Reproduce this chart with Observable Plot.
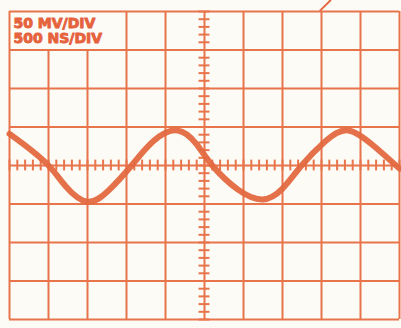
<!DOCTYPE html>
<html>
<head>
<meta charset="utf-8">
<script src="https://cdn.jsdelivr.net/npm/d3@7"></script>
<script src="https://cdn.jsdelivr.net/npm/@observablehq/plot@0.6"></script>
<style>
  html, body { margin: 0; padding: 0; background: #fdfbf6; }
  #chart svg { display: block; }
</style>
</head>
<body>
<div id="chart"></div>
<script>
// Graticule divisions
const gridX = [0, 1, 2, 3, 4, 5, 6, 7, 8, 9, 10];
const gridY = [-4, -3, -2, -1, 0, 1, 2, 3, 4];
// columns interrupted by the label box in the top row
const labelBoxColumns = [1, 2];
// minor ticks on the centre axes (every 0.2 division)
const minorX = d3.range(0, 10.001, 0.2);
const minorY = d3.range(-4, 4.001, 0.2);

// Trace (x: divisions, y: divisions)
const traceX = [0, 0.4, 1.0, 1.45, 2.0, 2.55, 3.13, 3.7, 4.31, 4.8, 5.2, 5.85, 6.49, 7.0, 7.49, 8.1, 8.69, 9.35, 10];
const traceY = [0.82, 0.52, 0, -0.55, -0.94, -0.64, 0, 0.64, 0.91, 0.55, 0, -0.62, -0.88, -0.6, 0, 0.63, 0.91, 0.5, -0.08];

// Stray stroke above the graticule
const strayX = [7.97, 8.23];
const strayY = [4.03, 4.29];

// Settings labels
const labels = ["50 MV/DIV", "500 NS/DIV"];
const labelY = [3.58, 3.19];

const trace = traceX.map((x, i) => ({x, y: traceY[i]}));
const stray = strayX.map((x, i) => ({x, y: strayY[i]}));
const labelData = labels.map((t, i) => ({t, x: 0.1, y: labelY[i]}));

const gridColor = "#e8744c";

const chart = Plot.plot({
  width: 401,
  height: 328,
  marginLeft: 9,
  marginRight: 2,
  marginTop: 11,
  marginBottom: 9,
  x: {domain: [0, 10], axis: null},
  y: {domain: [-4, 4], axis: null},
  style: {background: "#fdfbf6", overflow: "visible"},
  marks: [
    Plot.ruleX(gridX, {x: d => d, y1: -4, y2: d => labelBoxColumns.includes(d) ? 3 : 4, stroke: gridColor, strokeWidth: 2}),
    Plot.ruleY(gridY, {y: d => d, x1: 0, x2: 10, stroke: gridColor, strokeWidth: 2}),
    Plot.ruleX(minorX, {x: d => d, y1: -0.14, y2: 0.14, stroke: gridColor, strokeWidth: 2}),
    Plot.ruleY(minorY, {y: d => d, x1: 4.86, x2: 5.14, stroke: gridColor, strokeWidth: 2}),
    Plot.line(trace, {x: "x", y: "y", curve: "natural", stroke: "#e3693f", strokeWidth: 6, strokeOpacity: 0.95}),
    Plot.line(stray, {x: "x", y: "y", stroke: "#e3693f", strokeWidth: 2, clip: false}),
    Plot.text(labelData, {
      x: "x", y: "y", text: "t",
      textAnchor: "start", lineAnchor: "bottom",
      fill: "#e5623d", stroke: "#e5623d", strokeWidth: 0.9,
      fontSize: 14, fontWeight: "bold",
      fontFamily: "DejaVu Sans",
      style: "letter-spacing:0.8px"
    })
  ]
});
document.getElementById("chart").append(chart);
</script>
</body>
</html>
